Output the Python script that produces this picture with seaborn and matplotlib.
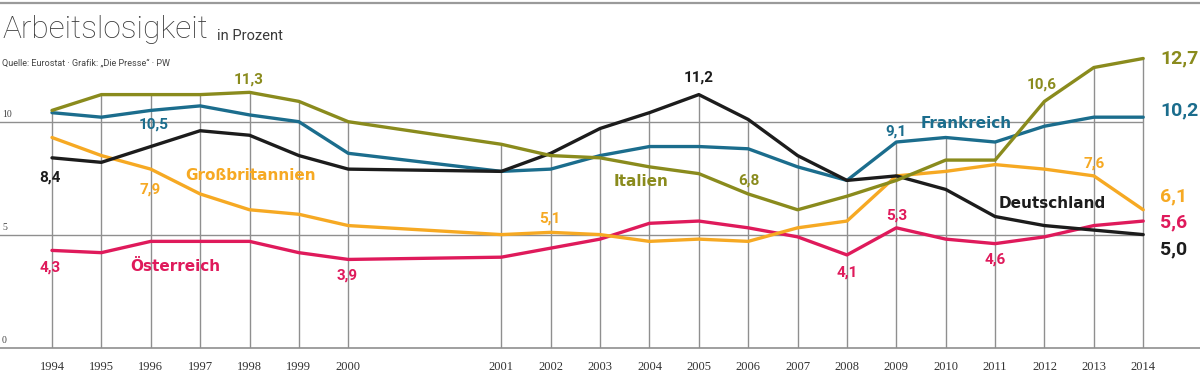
import numpy as np
import pandas as pd
import matplotlib.pyplot as plt
import seaborn as sns

# Data (unemployment rate in percent)
years = list(range(1994, 2015))
italien = [10.5, 11.2, 11.2, 11.2, 11.3, 10.9, 10.0, 9.0, 8.5, 8.4, 8.0,
           7.7, 6.8, 6.1, 6.7, 7.4, 8.3, 8.3, 10.9, 12.4, 12.8]
frankreich = [10.4, 10.2, 10.5, 10.7, 10.3, 10.0, 8.6, 7.8, 7.9, 8.5, 8.9,
              8.9, 8.8, 8.0, 7.4, 9.1, 9.3, 9.1, 9.8, 10.2, 10.2]
deutschland = [8.4, 8.2, 8.9, 9.6, 9.4, 8.5, 7.9, 7.8, 8.6, 9.7, 10.4,
               11.2, 10.1, 8.5, 7.4, 7.6, 7.0, 5.8, 5.4, 5.2, 5.0]
grossbritannien = [9.3, 8.5, 7.9, 6.8, 6.1, 5.9, 5.4, 5.0, 5.1, 5.0, 4.7,
                   4.8, 4.7, 5.3, 5.6, 7.6, 7.8, 8.1, 7.9, 7.6, 6.1]
oesterreich = [4.3, 4.2, 4.7, 4.7, 4.7, 4.2, 3.9, 4.0, 4.4, 4.8, 5.5,
               5.6, 5.3, 4.9, 4.1, 5.3, 4.8, 4.6, 4.9, 5.4, 5.6]
y_ticks = [0, 5, 10]
end_texts = {'Italien': '12,7', 'Frankreich': '10,2', 'Großbritannien': '6,1',
             'Österreich': '5,6', 'Deutschland': '5,0'}

series = {
    'Österreich': oesterreich,
    'Großbritannien': grossbritannien,
    'Frankreich': frankreich,
    'Deutschland': deutschland,
    'Italien': italien,
}
colors = {
    'Italien': '#8a8b1d',
    'Frankreich': '#1b6d8d',
    'Deutschland': '#1c1c1c',
    'Großbritannien': '#f6a923',
    'Österreich': '#df1a5b',
}

# the chart leaves an extra gap between 2000 and 2001
pos = [i + (2.1 if y > 2000 else 0) for i, y in enumerate(years)]
pos_of = dict(zip(years, pos))

df = pd.concat([pd.DataFrame({'jahr': years, 'pos': pos, 'wert': v, 'land': k})
                for k, v in series.items()])

sns.set_style('white')
plt.rcParams['font.family'] = ['Roboto', 'DejaVu Sans']

fig = plt.figure(figsize=(12, 3.75), dpi=100)
ax = fig.add_axes([0, 27 / 375, 1, 345.3 / 375])

grid_col = '#8f8f8f'
# drop lines from the baseline up to the highest value in each year
top = df.groupby('pos')['wert'].max()
ax.vlines(top.index, 0, top.values, color=grid_col, lw=1.0, zorder=1)
ax.hlines([t for t in y_ticks if t > 0], -1.1, pos[-1], color=grid_col, lw=1.0, zorder=1)

sns.lineplot(data=df, x='pos', y='wert', hue='land', hue_order=list(series),
             palette=colors, linewidth=2.4, legend=False, errorbar=None, ax=ax, zorder=3)

ax.set_xlim(-1.053, 23.25)
ax.set_ylim(-0.022, 15.27)
ax.set_xlabel('')
ax.set_ylabel('')
ax.set_yticks([])
ax.set_xticks(pos)
ax.set_xticklabels([str(y) for y in years], family='Liberation Serif', fontsize=9, color='#333333')
ax.tick_params(axis='x', length=0, pad=9)
for s in ['left', 'right']:
    ax.spines[s].set_visible(False)
ax.spines['bottom'].set_color(grid_col)
ax.spines['bottom'].set_linewidth(1.2)
ax.spines['top'].set_color('#9a9a9a')
ax.spines['top'].set_linewidth(1.6)

for t in y_ticks:
    ax.text(-1.01, t + 0.12, str(t), family='Liberation Serif', fontsize=7,
            color='#444444', ha='left', va='bottom')

# value labels: (land, jahr, text, dx, dy) offsets in pixels
value_labels = [
    ('Italien', 1998, '11,3', -1, 13), ('Frankreich', 1996, '10,5', 3, -14),
    ('Deutschland', 1994, '8,4', -2, -20), ('Großbritannien', 1996, '7,9', -1, -20),
    ('Österreich', 1994, '4,3', -2, -17), ('Österreich', 2000, '3,9', -1, -16),
    ('Großbritannien', 2002, '5,1', -1, 14), ('Italien', 2006, '6,8', 1, 13),
    ('Deutschland', 2005, '11,2', 0, 17), ('Frankreich', 2009, '9,1', 0, 10),
    ('Italien', 2012, '10,6', -3, 17), ('Großbritannien', 2013, '7,6', 0, 12),
    ('Österreich', 2009, '5,3', 0, 12), ('Österreich', 2008, '4,1', 0, -18),
    ('Österreich', 2011, '4,6', 0, -16),
]
for land, jahr, txt, dx, dy in value_labels:
    v = series[land][years.index(jahr)]
    w = 'bold' if land == 'Deutschland' and jahr == 1994 else 'semibold'
    ax.annotate(txt, (pos_of[jahr], v), xytext=(dx, dy), textcoords='offset pixels',
                ha='center', va='center', fontsize=11, color=colors[land], fontweight=w)

# country names
name_labels = [
    ('Großbritannien', 1998, 1, 34), ('Österreich', 1997, -25, -25),
    ('Italien', 2004, -8, -15), ('Frankreich', 2010, 20, 14),
    ('Deutschland', 2012, 8, 22),
]
for land, jahr, dx, dy in name_labels:
    v = series[land][years.index(jahr)]
    ax.annotate(land, (pos_of[jahr], v), xytext=(dx, dy), textcoords='offset pixels',
                ha='center', va='center', fontsize=11, color=colors[land],
                fontweight='bold', family='DejaVu Sans')

# end values at 2014
end_offsets = {'Italien': 0, 'Frankreich': 7, 'Großbritannien': 13,
               'Österreich': -1, 'Deutschland': -15}
for land, dy in end_offsets.items():
    v = series[land][-1]
    ax.annotate(end_texts[land], (pos[-1], v), xytext=(17, dy),
                textcoords='offset pixels', ha='left', va='center', fontsize=14,
                color=colors[land], fontweight='semibold')

fig.text(2 / 1200, 1 - 38 / 375, 'Arbeitslosigkeit', fontweight='light',
         fontsize=22.8, color='#3a3a3a', ha='left', va='baseline')
fig.text(217 / 1200, 1 - 40 / 375, 'in Prozent', fontsize=10.5, color='#3a3a3a',
         ha='left', va='baseline')
fig.text(2 / 1200, 1 - 66 / 375, 'Quelle: Eurostat · Grafik: „Die Presse“ · PW',
         fontsize=6.5, color='#444444', ha='left', va='baseline')

plt.savefig('out.png', dpi=100)
